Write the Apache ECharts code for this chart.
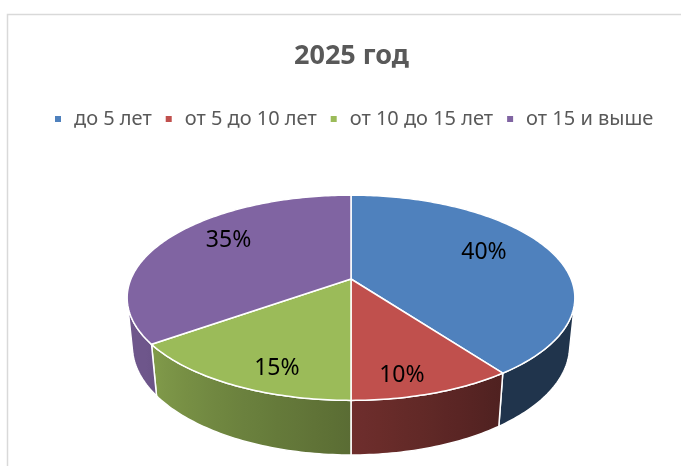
<!DOCTYPE html>
<html>
<head>
<meta charset="utf-8">
<script src="https://cdn.jsdelivr.net/npm/echarts@6/dist/echarts.min.js"></script>
<style>
  html, body { margin: 0; padding: 0; background: #fff; }
  #chart { width: 681px; height: 466px; }
</style>
</head>
<body>
<div id="chart"></div>
<script>
// данные
const categories = ['до 5 лет', 'от 5 до 10 лет', 'от 10 до 15 лет', 'от 15 и выше'];
const shares = [40, 10, 15, 35];
const colors = ['#4f81bd', '#c0504d', '#9bbb59', '#8064a2'];

// параметры "3D" проекции
const CX = 351, CY = 279;
const F = 1075, D = 4.885;
const S = 0.4508, C = Math.sqrt(1 - S * S);
const H = 0.2477;
const VIS0 = Math.acos(-1 / (D * C)) * 180 / Math.PI;
const VIS1 = 360 - VIS0;

function proj(r, deg, y) {
  const a = deg * Math.PI / 180;
  const X = r * Math.sin(a), Z = -r * Math.cos(a);
  const yc = Z * S - y * C;
  const zc = D - Z * C - y * S;
  return [CX + F * X / zc, CY + F * yc / zc];
}

function shade(hex, k) {
  const n = parseInt(hex.slice(1), 16);
  const r = Math.round(((n >> 16) & 255) * k);
  const g = Math.round(((n >> 8) & 255) * k);
  const b = Math.round((n & 255) * k);
  return 'rgb(' + r + ',' + g + ',' + b + ')';
}

function sideFactor(deg) {
  return Math.min(0.86, Math.max(0.4, 0.41 + 0.0047 * (deg - 144)));
}

const total = shares.reduce((a, b) => a + b, 0);
let acc = 0;
const slices = shares.map(v => {
  const s = acc / total * 360;
  acc += v;
  return [s, acc / total * 360, v];
});

function renderSlice(params, api) {
  const start = api.value(0), end = api.value(1), share = api.value(2);
  const color = colors[params.seriesIndex];
  const children = [];

  // верхняя грань
  const top = [proj(0, 0, 0)];
  const n = Math.max(2, Math.ceil(end - start));
  for (let i = 0; i <= n; i++) top.push(proj(1, start + (end - start) * i / n, 0));
  children.push({
    type: 'polygon', z2: 10,
    shape: { points: top },
    style: { fill: color, stroke: '#fff', lineWidth: 1.5 }
  });

  // боковая стенка (только видимая часть)
  const a0 = Math.max(start, VIS0), a1 = Math.min(end, VIS1);
  if (a1 > a0) {
    const m = Math.max(2, Math.ceil(a1 - a0));
    const upper = [], lower = [], stops = [];
    for (let i = 0; i <= m; i++) {
      const d = a0 + (a1 - a0) * i / m;
      upper.push(proj(1, d, 0));
      lower.push(proj(1, d, -H));
    }
    const xs = upper.map(p => p[0]);
    const minX = Math.min(...xs), maxX = Math.max(...xs);
    for (let i = 0; i <= m; i += Math.max(1, Math.floor(m / 12))) {
      const d = a0 + (a1 - a0) * i / m;
      stops.push({ offset: (upper[i][0] - minX) / (maxX - minX || 1), color: shade(color, sideFactor(d)) });
    }
    stops.sort((p, q) => p.offset - q.offset);
    children.push({
      type: 'polygon', z2: 1,
      shape: { points: upper.concat(lower.reverse()) },
      style: {
        fill: new echarts.graphic.LinearGradient(0, 0, 1, 0, stops),
        stroke: '#fff', lineWidth: 1.5
      }
    });
  }

  // подпись
  const mid = (start + end) / 2;
  const lp = proj(0.68, mid, 0);
  children.push({
    type: 'text', z2: 20,
    x: CX + (lp[0] - CX) * 0.97, y: CY + (lp[1] - CY) * 1.33,
    style: {
      text: Math.round(share / total * 100) + '%',
      fill: '#000', font: '23px "Noto Sans"',
      align: 'center', verticalAlign: 'middle'
    }
  });

  return { type: 'group', children: children };
}

const chart = echarts.init(document.getElementById('chart'), null, { renderer: 'canvas' });

chart.setOption({
  backgroundColor: '#fff',
  animation: false,
  title: {
    text: '2025 год',
    left: 289,
    top: 38,
    textStyle: { fontFamily: 'Noto Sans', fontSize: 27, fontWeight: 'bold', color: '#595959' }
  },
  legend: {
    data: categories,
    left: 50,
    top: 104,
    icon: 'rect',
    itemWidth: 6,
    itemHeight: 6,
    itemGap: 14,
    textStyle: { fontFamily: 'Noto Sans', fontSize: 20, color: '#595959', padding: [0, 0, 0, 8] }
  },
  graphic: [{
    type: 'rect',
    shape: { x: 7.5, y: 14.5, width: 720, height: 520 },
    style: { fill: 'none', stroke: '#d9d9d9', lineWidth: 1.5 },
    silent: true, z: -1
  }],
  series: categories.map((name, i) => ({
    type: 'custom',
    name: name,
    coordinateSystem: 'none',
    itemStyle: { color: colors[i] },
    renderItem: renderSlice,
    data: [slices[i]]
  }))
});

window.addEventListener('resize', () => chart.resize());
</script>
</body>
</html>
